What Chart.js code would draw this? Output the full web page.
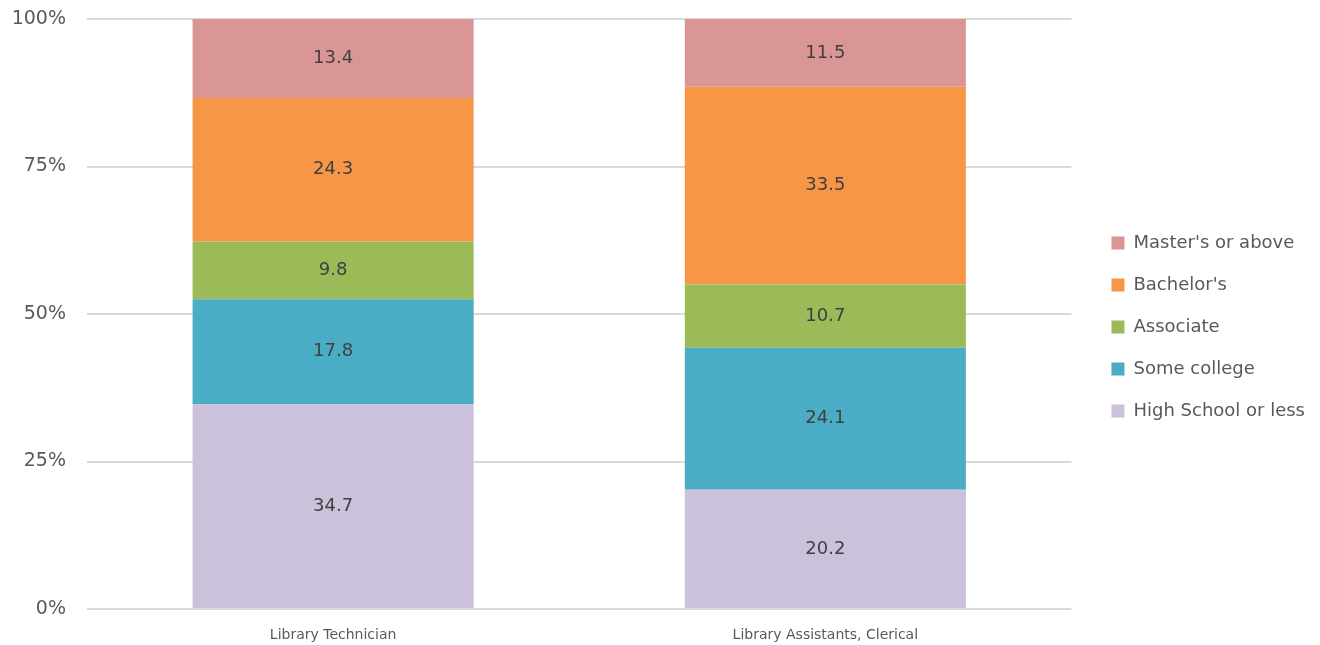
<!DOCTYPE html>
<html lang="en">
<head>
    <meta charset="UTF-8">
    <title>Education by occupation</title>
    <script src="https://cdn.jsdelivr.net/npm/chart.js"></script>
    <style>
        body { margin: 0; background: #ffffff; }
        .chart-container { width: 1320px; height: 645px; }
    </style>
</head>
<body>
    <div class="chart-container">
        <canvas id="chart"></canvas>
    </div>
    <script>
        // categories and series (percent of each occupation)
        const occupations = ['Library Technician', 'Library Assistants, Clerical'];
        const highSchool = [34.7, 20.2];
        const someCollege = [17.8, 24.1];
        const associate = [9.8, 10.7];
        const bachelors = [24.3, 33.5];
        const masters = [13.4, 11.5];
        const yTicks = [0, 25, 50, 75, 100];

        const fontFamily = "'DejaVu Sans', sans-serif";

        // leave a wider gap between the plot and the legend on the right
        const legendGap = 16;
        const legendLift = 5;
        const legendPlugin = Chart.registry.getPlugin('legend');
        if (legendPlugin && legendPlugin._element) {
            const proto = legendPlugin._element.prototype;
            const origFit = proto.fit;
            const origDraw = proto.draw;
            proto.fit = function () {
                origFit.call(this);
                if (!this.isHorizontal()) this.width += legendGap;
            };
            proto.draw = function () {
                if (this.isHorizontal()) return origDraw.call(this);
                this.left += legendGap;
                this.top -= legendLift;
                this.bottom -= legendLift;
                origDraw.call(this);
                this.left -= legendGap;
                this.top += legendLift;
                this.bottom += legendLift;
            };
        }

        // draws the value in the middle of each bar segment
        const segmentLabels = {
            id: 'segmentLabels',
            afterDatasetsDraw(chart) {
                const ctx = chart.ctx;
                ctx.save();
                ctx.font = '18px ' + fontFamily;
                ctx.fillStyle = '#404040';
                ctx.textAlign = 'center';
                ctx.textBaseline = 'middle';
                chart.data.datasets.forEach((ds, i) => {
                    chart.getDatasetMeta(i).data.forEach((bar, j) => {
                        const c = bar.getCenterPoint();
                        ctx.fillText(ds.data[j].toFixed(1), c.x, c.y);
                    });
                });
                ctx.restore();
            }
        };

        new Chart(document.getElementById('chart'), {
            type: 'bar',
            data: {
                labels: occupations,
                datasets: [
                    { label: 'High School or less', data: highSchool, backgroundColor: '#CCC1DA' },
                    { label: 'Some college', data: someCollege, backgroundColor: '#4BACC6' },
                    { label: 'Associate', data: associate, backgroundColor: '#9BBB59' },
                    { label: "Bachelor's", data: bachelors, backgroundColor: '#F79646' },
                    { label: "Master's or above", data: masters, backgroundColor: '#D99694' }
                ]
            },
            options: {
                responsive: true,
                maintainAspectRatio: false,
                animation: false,
                layout: { padding: { top: 19, right: 5, left: 0, bottom: 0 } },
                datasets: { bar: { barPercentage: 0.571, categoryPercentage: 1 } },
                plugins: {
                    tooltip: { enabled: false },
                    legend: {
                        position: 'right',
                        reverse: true,
                        labels: {
                            boxWidth: 13,
                            boxHeight: 13,
                            padding: 24,
                            color: '#595959',
                            font: { family: fontFamily, size: 18 }
                        }
                    }
                },
                scales: {
                    x: {
                        stacked: true,
                        grid: { display: false },
                        border: { display: false },
                        ticks: { color: '#595959', font: { family: fontFamily, size: 14 }, padding: 10 },
                        afterFit(scale) { scale.height = 36; }
                    },
                    y: {
                        stacked: true,
                        min: 0,
                        max: 100,
                        afterBuildTicks(scale) { scale.ticks = yTicks.map(v => ({ value: v })); },
                        grid: { color: '#D9D9D9', lineWidth: 2, drawTicks: true, tickLength: 20, tickColor: 'rgba(0,0,0,0)' },
                        border: { display: false },
                        ticks: {
                            color: '#595959',
                            padding: 1,
                            font: { family: fontFamily, size: 19 },
                            callback: v => v + '%'
                        },
                        afterFit(scale) { scale.width = 87; }
                    }
                }
            },
            plugins: [segmentLabels]
        });
    </script>
</body>
</html>
